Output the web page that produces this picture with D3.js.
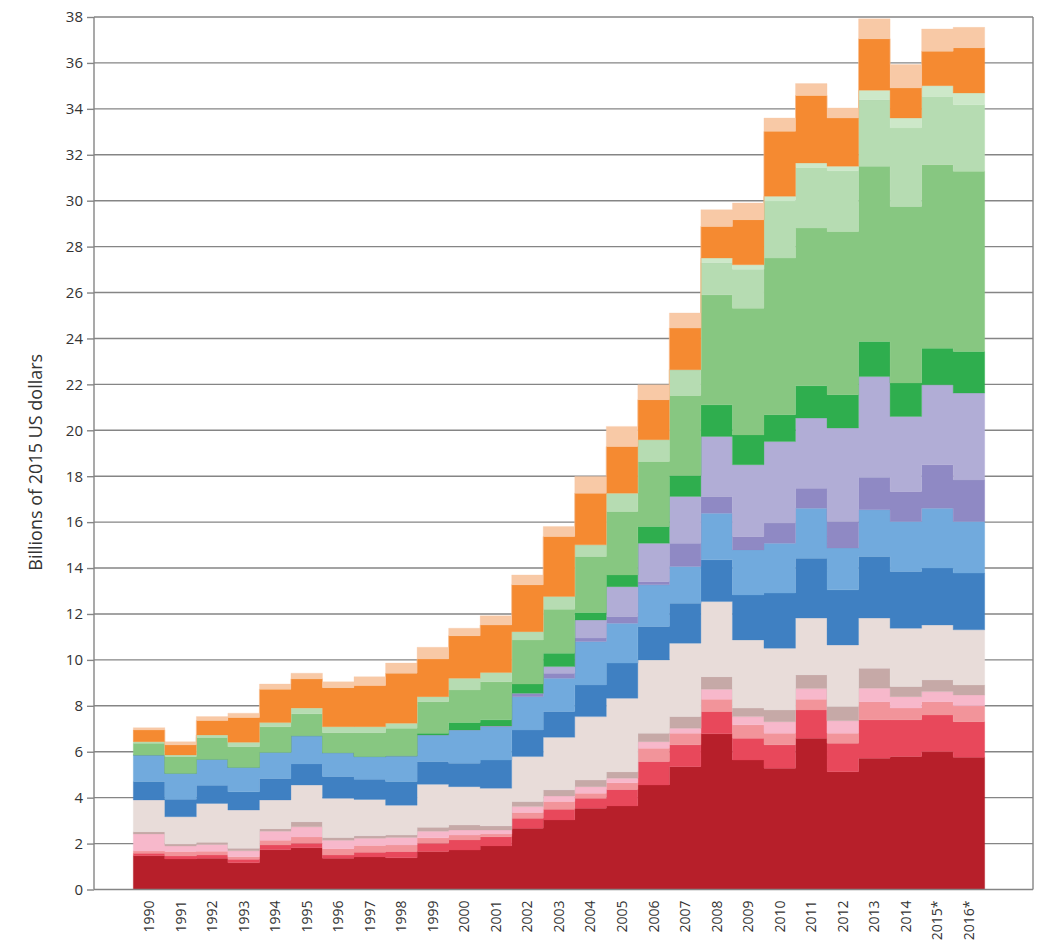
<!DOCTYPE html>
<html>
<head>
<meta charset="utf-8">
<script src="https://cdn.jsdelivr.net/npm/d3@7"></script>
<style>
  html, body { margin: 0; padding: 0; background: #fff; }
  svg { display: block; font-family: "Open Sans", "Lato", sans-serif; }
</style>
</head>
<body>
<svg id="chart" width="1043" height="948"></svg>
<script>
// ---- data (billions of 2015 US dollars), stacked bottom to top ----
const years = ["1990","1991","1992","1993","1994","1995","1996","1997","1998","1999",
  "2000","2001","2002","2003","2004","2005","2006","2007","2008","2009",
  "2010","2011","2012","2013","2014","2015*","2016*"];

const yTicks = [0,2,4,6,8,10,12,14,16,18,20,22,24,26,28,30,32,34,36,38];
const yTitle = "Billions of 2015 US dollars";

const darkRed   = [1.47,1.33,1.36,1.16,1.73,1.82,1.36,1.42,1.38,1.65,1.72,1.90,2.67,3.03,3.54,3.64,4.55,5.35,6.78,5.64,5.28,6.59,5.13,5.72,5.79,6.00,5.76];
const redPink   = [0.11,0.13,0.14,0.16,0.21,0.19,0.14,0.20,0.27,0.36,0.44,0.40,0.43,0.46,0.43,0.71,1.02,0.95,0.97,0.95,1.02,1.23,1.24,1.67,1.60,1.60,1.55];
const salmon    = [0.10,0.19,0.17,0.11,0.20,0.28,0.28,0.30,0.29,0.24,0.21,0.12,0.25,0.34,0.22,0.30,0.58,0.51,0.54,0.58,0.51,0.47,0.44,0.79,0.51,0.58,0.69];
const lightPink = [0.74,0.25,0.29,0.26,0.40,0.44,0.36,0.31,0.33,0.29,0.22,0.17,0.26,0.24,0.29,0.20,0.29,0.21,0.43,0.36,0.50,0.46,0.54,0.59,0.50,0.44,0.47];
const rose      = [0.10,0.08,0.10,0.11,0.11,0.22,0.12,0.11,0.10,0.17,0.22,0.18,0.22,0.27,0.29,0.28,0.37,0.51,0.55,0.37,0.51,0.60,0.62,0.87,0.44,0.51,0.44];
const paleGrey  = [1.38,1.19,1.69,1.66,1.25,1.60,1.71,1.58,1.30,1.87,1.67,1.64,1.96,2.29,2.76,3.20,3.19,3.20,3.27,2.97,2.69,2.47,2.68,2.18,2.54,2.39,2.40];
const darkBlue  = [0.80,0.76,0.79,0.80,0.93,0.92,0.95,0.88,1.03,0.99,1.02,1.23,1.16,1.12,1.38,1.53,1.45,1.74,1.82,1.96,2.40,2.61,2.40,2.68,2.47,2.48,2.47];
const lightBlue = [1.16,1.13,1.13,1.06,1.15,1.23,1.04,0.99,1.12,1.16,1.45,1.45,1.45,1.45,1.89,1.74,1.82,1.60,2.03,1.96,2.17,2.18,1.82,2.04,2.18,2.61,2.25];
const darkPurple= [0,0,0,0,0,0,0,0,0,0,0,0.03,0.15,0.22,0.15,0.29,0.14,1.01,0.73,0.58,0.88,0.87,1.16,1.42,1.30,1.89,1.81];
const lightPurple=[0,0,0,0,0,0,0,0,0,0,0,0,0,0.29,0.79,1.30,1.67,2.04,2.61,3.13,3.55,3.05,4.07,4.38,3.27,3.48,3.78];
const darkGreen = [0,0,0,0,0,0,0,0,0,0.08,0.32,0.27,0.40,0.58,0.32,0.51,0.73,0.91,1.38,1.30,1.17,1.41,1.45,1.53,1.46,1.59,1.81];
const midGreen  = [0.51,0.73,0.95,0.90,1.11,0.95,0.87,1.04,1.20,1.37,1.42,1.66,1.92,1.92,2.44,2.76,2.83,3.49,4.79,5.52,6.82,6.87,7.11,7.63,7.69,8.00,7.85];
const lightGreen= [0.07,0.07,0.11,0.19,0.18,0.25,0.26,0.26,0.22,0.22,0.51,0.40,0.36,0.55,0.51,0.80,0.95,1.12,1.40,1.69,2.49,2.63,2.64,2.90,3.42,2.97,2.90];
const paleGreen = [0,0,0,0,0,0,0,0,0,0,0,0,0,0,0,0,0,0,0.20,0.20,0.20,0.20,0.20,0.41,0.43,0.47,0.51];
const orange    = [0.51,0.44,0.63,1.08,1.45,1.27,1.70,1.79,2.18,1.64,1.85,2.07,2.04,2.61,2.25,2.03,1.74,1.81,1.38,1.96,2.83,2.94,2.10,2.24,1.31,1.50,1.97];
const peach     = [0.10,0.14,0.17,0.19,0.23,0.25,0.26,0.39,0.44,0.51,0.33,0.40,0.43,0.44,0.73,0.88,0.65,0.66,0.73,0.73,0.58,0.52,0.44,0.87,1.02,0.97,0.89];

const seriesNames = ["darkRed","redPink","salmon","lightPink","rose","paleGrey","darkBlue","lightBlue",
  "darkPurple","lightPurple","darkGreen","midGreen","lightGreen","paleGreen","orange","peach"];
const seriesValues = [darkRed,redPink,salmon,lightPink,rose,paleGrey,darkBlue,lightBlue,
  darkPurple,lightPurple,darkGreen,midGreen,lightGreen,paleGreen,orange,peach];
const seriesColors = ["#b71f2a","#e8485b","#f2949a","#f7b8cb","#c6a9a7","#e8dcd9","#3f80c2","#71aadd",
  "#8f89c4","#b1add6","#2fae4e","#87c781","#b6dcb2","#cde8c9","#f58a31","#f8c9a6"];

// ---- build table ----
const table = years.map((yr, i) => {
  const row = { year: yr };
  seriesNames.forEach((n, k) => row[n] = seriesValues[k][i]);
  return row;
});

const svg = d3.select("#chart");
const plot = { left: 94, right: 1033, top: 17, bottom: 889.5 };
const fontFam = "'Open Sans', Lato, sans-serif";

const y = d3.scaleLinear().domain([0, 38]).range([plot.bottom, plot.top]);
const x = d3.scaleBand().domain(years).range([133.3, 984.7]).padding(0);

// gridlines
svg.append("g").selectAll("line").data(yTicks.filter(t => t > 0)).join("line")
  .attr("x1", plot.left).attr("x2", plot.right)
  .attr("y1", d => y(d)).attr("y2", d => y(d))
  .attr("stroke", "#858585").attr("stroke-width", 1.4);

// stacked step areas
const stack = d3.stack().keys(seriesNames);
const stacked = stack(table);
const area = d3.area().x(d => d.x).y0(d => y(d.y0)).y1(d => y(d.y1));

svg.append("g").selectAll("path").data(stacked).join("path")
  .attr("d", s => {
    const pts = [];
    s.forEach(d => {
      const x0 = x(d.data.year), x1 = x0 + x.bandwidth();
      pts.push({ x: x0, y0: d[0], y1: d[1] });
      pts.push({ x: x1, y0: d[0], y1: d[1] });
    });
    return area(pts);
  })
  .attr("fill", (s, i) => seriesColors[i])
  .attr("stroke", (s, i) => seriesColors[i])
  .attr("stroke-width", 0.3);

// frame
const frameCol = "#858585";
svg.append("line").attr("x1", plot.left).attr("x2", plot.left)
  .attr("y1", plot.top).attr("y2", plot.bottom).attr("stroke", frameCol).attr("stroke-width", 1.4);
svg.append("line").attr("x1", plot.right).attr("x2", plot.right)
  .attr("y1", plot.top).attr("y2", plot.bottom).attr("stroke", frameCol).attr("stroke-width", 1.4);
svg.append("line").attr("x1", plot.left).attr("x2", plot.right)
  .attr("y1", plot.bottom).attr("y2", plot.bottom).attr("stroke", frameCol).attr("stroke-width", 1.4);

// y axis
const yAxis = d3.axisLeft(y).tickValues(yTicks).tickSize(7).tickPadding(4).tickFormat(d3.format("d"));
const gy = svg.append("g").attr("transform", `translate(${plot.left},0)`).call(yAxis);
gy.select(".domain").remove();
gy.selectAll(".tick line").attr("stroke", frameCol).attr("stroke-width", 1.4);
gy.selectAll(".tick text").attr("fill", "#333").style("font-size", "15px")
  .style("font-family", fontFam);

// x labels (rotated)
const xAxis = d3.axisBottom(x).tickSize(0).tickPadding(0);
const gx = svg.append("g").attr("transform", `translate(0,${plot.bottom})`).call(xAxis);
gx.select(".domain").remove();
gx.selectAll(".tick text")
  .attr("transform", "rotate(-90)")
  .attr("x", -11).attr("y", 0).attr("dy", "0.35em")
  .attr("text-anchor", "end")
  .attr("fill", "#333").style("font-size", "14px")
  .style("font-family", fontFam);

// y title
svg.append("text")
  .attr("transform", `translate(36,${(plot.top + plot.bottom) / 2 + 9}) rotate(-90)`)
  .attr("text-anchor", "middle").attr("dy", "0.35em")
  .attr("fill", "#333").style("font-size", "18px")
  .style("font-family", fontFam)
  .text(yTitle);
</script>
</body>
</html>
